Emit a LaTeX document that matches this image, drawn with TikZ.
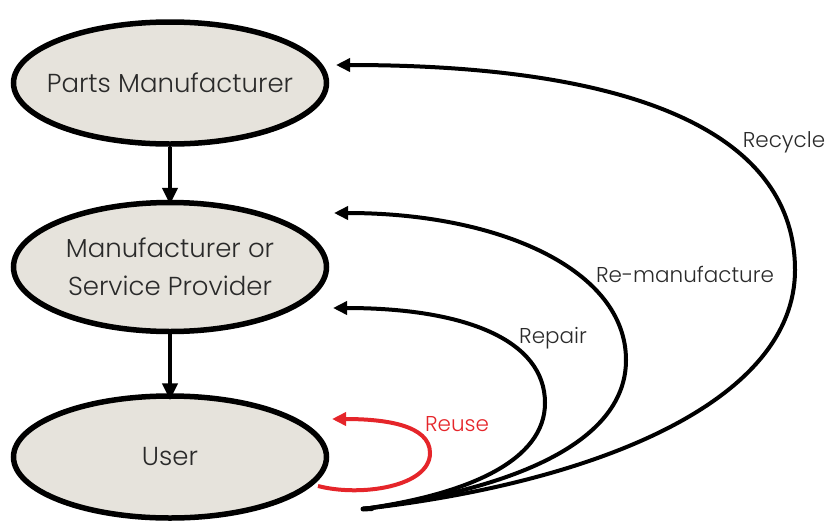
\documentclass[tikz,border=0pt]{standalone}
\usepackage{fontspec}
\setmainfont{Poppins}[UprightFont=* Light]
\usetikzlibrary{shapes.geometric,arrows.meta}

\definecolor{stage}{HTML}{E6E3DC}
\definecolor{ink}{HTML}{2A2A2A}
\definecolor{reuse}{HTML}{E5252A}

\tikzset{
  stagebox/.style={ellipse, draw=black, line width=5.5pt, fill=stage,
    minimum width=313pt, minimum height=122pt, inner xsep=-25pt, inner ysep=0pt,
    text=ink, font=\fontsize{26}{38}\selectfont, align=center},
  flow/.style={line width=4pt, -{Triangle[length=17pt,width=15pt]}},
  loop/.style={line width=4pt, line cap=round,
    -{Triangle[length=14pt,width=13pt]}},
  looplabel/.style={text=ink, font=\fontsize{21.5}{24}\selectfont, inner sep=0pt}
}

\begin{document}
\begin{tikzpicture}[x=1pt,y=-1pt]
  \useasboundingbox (0,0) rectangle (828,528);

  % life-cycle stages
  \node[stagebox] (parts) at (170,83) {Parts Manufacturer};
  \node[stagebox, minimum height=129pt] (maker) at (170,267)
    {Manufacturer or\\Service Provider};
  \node[stagebox] (user) at (170,457) {User};

  % forward flow
  \draw[flow] (parts.south) -- ([yshift=-5pt]maker.north);
  \draw[flow] (maker.south) -- ([yshift=-7pt]user.north);

  % return loops, all leaving from one point under the user
  \coordinate (src) at (363,509);
  \coordinate (cyc) at (795,270);
  \coordinate (rem) at (626,360);
  \coordinate (rep) at (545,403);
  \coordinate (rus) at (430,453);
  \coordinate (tipA) at (336,65);
  \coordinate (tipB) at (334,213);
  \coordinate (tipC) at (333,308);
  \coordinate (tipD) at (332,419);
  \coordinate (uout) at (318,486);

  \draw[loop] (src) .. controls (600,482) and (795,400) .. (cyc)
    .. controls (795,140) and (650,65) .. (tipA);
  \draw[loop] (src) .. controls (520,488) and (626,440) .. (rem)
    .. controls (626,270) and (500,213) .. (tipB);
  \draw[loop] (src) .. controls (470,494) and (545,460) .. (rep)
    .. controls (545,340) and (465,308) .. (tipC);
  \draw[loop, draw=reuse, fill=none, line cap=butt]
    (uout) .. controls (360,497) and (430,487) .. (rus)
    .. controls (430,425) and (385,419) .. (tipD);
  \draw[line width=5pt, line cap=round] (src) -- (372,508.5);

  % loop names
  \node[looplabel] (lcyc) at (784,142) {Recycle};
  \node[looplabel] (lrem) at (685,274) {Re-manufacture};
  \node[looplabel] (lrep) at (553,338) {Repair};
  \node[looplabel, text=reuse] (lrus) at (457,424) {Reuse};
\end{tikzpicture}
\end{document}
